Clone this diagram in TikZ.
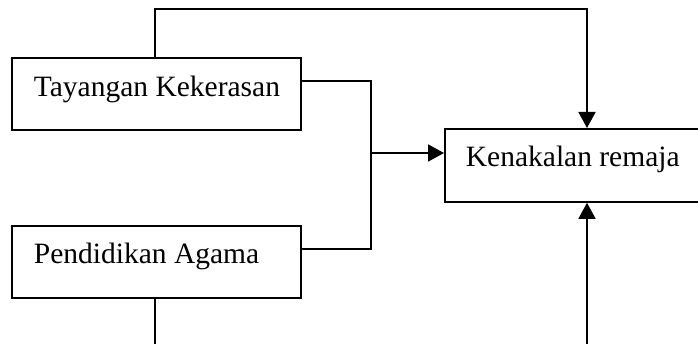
\documentclass[tikz,border=0pt]{standalone}
\usepackage{fontspec}
\setmainfont{Liberation Serif}
\usetikzlibrary{arrows.meta}
\begin{document}
\begin{tikzpicture}[x=1pt,y=-1pt,
  line width=1.8pt,
  boxnode/.style={draw, rectangle, anchor=north west, inner sep=0pt, line width=1.8pt},
  label/.style={anchor=base west, inner sep=0pt, font=\fontsize{29.5}{34}\selectfont},
  conn/.style={line width=1.8pt},
  arr/.style={conn, -{Triangle[width=17pt,length=16pt]}}]
\useasboundingbox (0,0) rectangle (698,344);
\clip (0,0) rectangle (698,344);
\node[boxnode, minimum width=289pt, minimum height=72pt] (k1) at (11,57) {};
\node[boxnode, minimum width=289pt, minimum height=72pt] (k2) at (11,225) {};
\node[boxnode, minimum width=270pt, minimum height=73pt] (k3) at (444,128) {};
\node[label] (t1) at (33,97) {Tayangan Kekerasan};
\node[label] (t2) at (33,264) {Pendidikan Agama};
\node[label] (t3) at (465,167) {Kenakalan remaja};
\coordinate (j) at (371,153);
\coordinate (b1) at (155,346);
\coordinate (b2) at (587,346);
% top connector
\draw[arr] (k1.north west) ++(144,0) |- (587,9) -- (k3.north west -| 587,0);
% middle
\draw[conn] (k1.north east) ++(0,24) -| (j) |- (300,249);
\draw[arr] (j) -- (j -| k3.west);
% bottom
\draw[conn] (k2.south west) ++(144,0) -- (b1);
\draw[arr] (b2) -- (b2 |- k3.south);
\end{tikzpicture}
\end{document}
